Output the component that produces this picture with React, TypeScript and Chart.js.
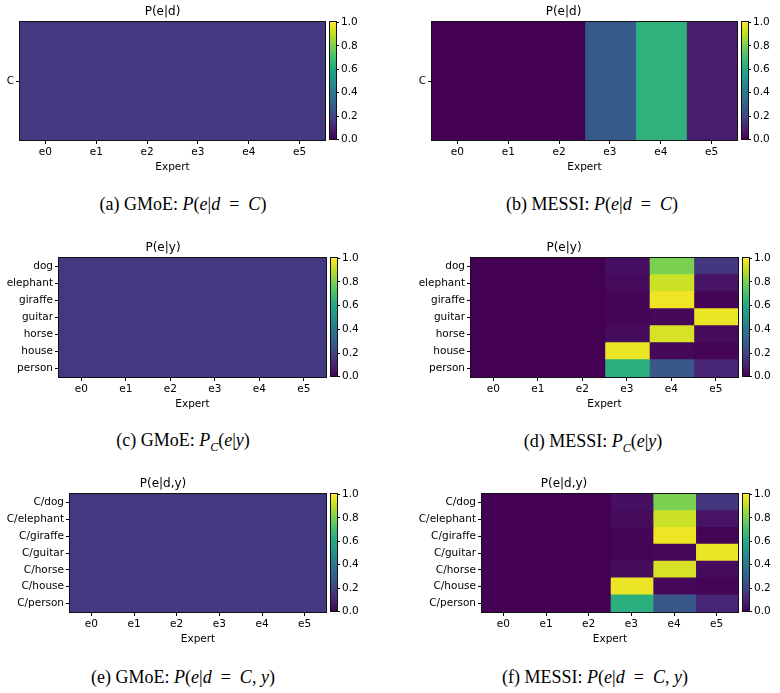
import React, { useEffect, useRef } from 'react';
import { Chart, registerables } from 'chart.js';

Chart.register(...registerables);

// ---------- data ----------
const experts = ['e0', 'e1', 'e2', 'e3', 'e4', 'e5'];
const domainRows = ['C'];
const classRows = ['dog', 'elephant', 'giraffe', 'guitar', 'horse', 'house', 'person'];
const domainClassRows = ['C/dog', 'C/elephant', 'C/giraffe', 'C/guitar', 'C/horse', 'C/house', 'C/person'];
const colorbarTicks = [0, 0.2, 0.4, 0.6, 0.8, 1.0];

const gmoeDomain = [[0.167, 0.167, 0.167, 0.167, 0.167, 0.167]];
const messiDomain = [[0.0, 0.0, 0.0, 0.28, 0.64, 0.08]];

const gmoeClass = [
  [0.167, 0.167, 0.167, 0.167, 0.167, 0.167],
  [0.167, 0.167, 0.167, 0.167, 0.167, 0.167],
  [0.167, 0.167, 0.167, 0.167, 0.167, 0.167],
  [0.167, 0.167, 0.167, 0.167, 0.167, 0.167],
  [0.167, 0.167, 0.167, 0.167, 0.167, 0.167],
  [0.167, 0.167, 0.167, 0.167, 0.167, 0.167],
  [0.167, 0.167, 0.167, 0.167, 0.167, 0.167],
];
const messiClass = [
  [0.0, 0.0, 0.0, 0.04, 0.8, 0.16],
  [0.0, 0.0, 0.0, 0.03, 0.92, 0.05],
  [0.0, 0.0, 0.0, 0.01, 0.98, 0.01],
  [0.0, 0.0, 0.0, 0.01, 0.02, 0.97],
  [0.0, 0.0, 0.0, 0.03, 0.94, 0.03],
  [0.0, 0.0, 0.0, 0.97, 0.02, 0.01],
  [0.0, 0.0, 0.0, 0.63, 0.27, 0.1],
];
const gmoeDomainClass = [
  [0.167, 0.167, 0.167, 0.167, 0.167, 0.167],
  [0.167, 0.167, 0.167, 0.167, 0.167, 0.167],
  [0.167, 0.167, 0.167, 0.167, 0.167, 0.167],
  [0.167, 0.167, 0.167, 0.167, 0.167, 0.167],
  [0.167, 0.167, 0.167, 0.167, 0.167, 0.167],
  [0.167, 0.167, 0.167, 0.167, 0.167, 0.167],
  [0.167, 0.167, 0.167, 0.167, 0.167, 0.167],
];
const messiDomainClass = [
  [0.0, 0.0, 0.0, 0.04, 0.8, 0.16],
  [0.0, 0.0, 0.0, 0.03, 0.92, 0.05],
  [0.0, 0.0, 0.0, 0.01, 0.98, 0.01],
  [0.0, 0.0, 0.0, 0.01, 0.02, 0.97],
  [0.0, 0.0, 0.0, 0.03, 0.94, 0.03],
  [0.0, 0.0, 0.0, 0.97, 0.02, 0.01],
  [0.0, 0.0, 0.0, 0.63, 0.27, 0.1],
];

// ---------- colormap ----------
const VIRIDIS: number[][] = [
  [68, 1, 84], [72, 36, 117], [65, 68, 135], [53, 95, 141], [42, 120, 142],
  [33, 145, 140], [34, 168, 132], [68, 191, 112], [122, 209, 81], [189, 223, 38], [253, 231, 37],
];
function viridis(t: number): string {
  const v = Math.max(0, Math.min(1, t)) * (VIRIDIS.length - 1);
  const i = Math.min(VIRIDIS.length - 2, Math.floor(v));
  const f = v - i;
  const a = VIRIDIS[i], b = VIRIDIS[i + 1];
  const c = a.map((x, k) => Math.round(x + (b[k] - x) * f));
  return `rgb(${c[0]},${c[1]},${c[2]})`;
}

const FONT = 'DejaVu Sans';
const TICK_FONT = { family: FONT, size: 10.5 };
const TITLE_H = 22;
const XAXIS_H = 34;

const framePlugin = {
  id: 'frame',
  afterDatasetsDraw(chart: any) {
    const { ctx, chartArea: a } = chart;
    ctx.save();
    ctx.strokeStyle = '#111';
    ctx.lineWidth = 1;
    ctx.strokeRect(Math.round(a.left) - 0.5, Math.round(a.top) - 0.5, Math.round(a.right - a.left) + 1, Math.round(a.bottom - a.top) + 1);
    ctx.restore();
  },
};

type HeatProps = {
  colLeft: number; plotL: number; plotR: number; plotT: number; plotB: number;
  rows: string[]; values: number[][]; title: string;
};

function Heatmap({ colLeft, plotL, plotR, plotT, plotB, rows, values, title }: HeatProps) {
  const ref = useRef<HTMLCanvasElement>(null);
  const width = plotR - colLeft + 1;
  const height = plotB - plotT + TITLE_H + XAXIS_H;
  const top = plotT - TITLE_H;
  useEffect(() => {
    const datasets = experts.map((e, j) => ({
      label: e,
      data: rows.map(() => [j - 0.5, j + 0.5]),
      backgroundColor: values.map((r) => viridis(r[j])),
      borderWidth: 0,
      inflateAmount: 0.7,
      barPercentage: 1,
      categoryPercentage: 1,
      grouped: false,
    }));
    const chart = new Chart(ref.current as HTMLCanvasElement, {
      type: 'bar',
      data: { labels: rows, datasets: datasets as any },
      options: {
        indexAxis: 'y',
        animation: false,
        responsive: false,
        maintainAspectRatio: false,
        layout: { padding: { right: 1, left: 0, top: 0, bottom: 0 } },
        plugins: {
          legend: { display: false },
          tooltip: { enabled: false },
          title: {
            display: true,
            text: title,
            color: '#000',
            font: { family: FONT, size: 12, weight: 'normal' as any, lineHeight: 1.2 },
            padding: { top: 5, bottom: 2.6 },
          },
        },
        scales: {
          x: {
            type: 'linear',
            min: -0.5,
            max: 5.5,
            afterBuildTicks: (s: any) => { s.ticks = experts.map((_, i) => ({ value: i })); },
            afterFit: (s: any) => { s.height = XAXIS_H; },
            ticks: {
              callback: (_v: any, i: number) => experts[i],
              color: '#000',
              font: TICK_FONT,
              padding: 2,
              maxRotation: 0,
              autoSkip: false,
            },
            grid: { display: true, drawOnChartArea: false, drawTicks: true, tickLength: 4, tickColor: '#000', color: '#000' },
            border: { display: false },
            title: { display: true, text: 'Expert', color: '#000', font: TICK_FONT, padding: { top: 1, bottom: 0 } },
          },
          y: {
            type: 'category',
            afterFit: (s: any) => { s.width = plotL - colLeft; },
            ticks: { color: '#000', font: TICK_FONT, padding: 2, autoSkip: false },
            grid: { display: true, offset: false, drawOnChartArea: false, drawTicks: true, tickLength: 4, tickColor: '#000', color: '#000' },
            border: { display: false },
          },
        },
      },
      plugins: [framePlugin],
    });
    return () => chart.destroy();
  }, []);
  return (
    <canvas
      ref={ref}
      width={width}
      height={height}
      style={{ position: 'absolute', left: colLeft, top, width, height }}
    />
  );
}

function Colorbar({ left, plotT, plotB }: { left: number; plotT: number; plotB: number }) {
  const ref = useRef<HTMLCanvasElement>(null);
  const W = 45;
  const PAD = 8;
  const cbW = 6;
  const height = plotB - plotT + 2 * PAD;
  useEffect(() => {
    const chart = new Chart(ref.current as HTMLCanvasElement, {
      type: 'bar',
      data: {
        labels: [''],
        datasets: [{
          data: [[colorbarTicks[0], colorbarTicks[colorbarTicks.length - 1]]] as any,
          borderWidth: 0,
          barPercentage: 1,
          categoryPercentage: 1,
          backgroundColor: (ctx: any) => {
            const ch = ctx.chart;
            const a = ch.chartArea;
            if (!a) return viridis(0.5);
            const g = ch.ctx.createLinearGradient(0, a.bottom, 0, a.top);
            for (let k = 0; k <= 20; k++) g.addColorStop(k / 20, viridis(k / 20));
            return g;
          },
        }],
      },
      options: {
        animation: false,
        responsive: false,
        maintainAspectRatio: false,
        layout: { padding: { left: 1, right: 0, top: PAD, bottom: PAD } },
        plugins: { legend: { display: false }, tooltip: { enabled: false }, title: { display: false } },
        scales: {
          x: { display: false },
          y: {
            type: 'linear',
            position: 'right',
            min: 0,
            max: 1,
            afterBuildTicks: (s: any) => { s.ticks = colorbarTicks.map((v) => ({ value: v })); },
            afterFit: (s: any) => { s.width = W - 1 - cbW; },
            ticks: { callback: (v: any) => Number(v).toFixed(1), color: '#000', font: TICK_FONT, padding: 2 },
            grid: { display: true, drawOnChartArea: false, drawTicks: true, tickLength: 3, tickColor: '#000', color: '#000' },
            border: { display: false },
          },
        },
      },
      plugins: [framePlugin],
    });
    return () => chart.destroy();
  }, []);
  return (
    <canvas
      ref={ref}
      width={W}
      height={height}
      style={{ position: 'absolute', left: left - 1, top: plotT - PAD, width: W, height }}
    />
  );
}

function Caption({ cx, cy, children }: { cx: number; cy: number; children: React.ReactNode }) {
  return (
    <div
      style={{
        position: 'absolute', left: cx - 200, top: cy - 11, width: 400, textAlign: 'center',
        fontFamily: '"Liberation Serif", "Times New Roman", serif', fontSize: 18, lineHeight: '22px', color: '#000',
        whiteSpace: 'pre',
      }}
    >
      {children}
    </div>
  );
}

const EQ = '\u2002=\u2002';

type PanelSpec = {
  colLeft: number; plotL: number; plotR: number; plotT: number; plotB: number;
  rows: string[]; values: number[][]; title: string;
};

function Panel(p: PanelSpec) {
  return (
    <>
      <Heatmap {...p} />
      <Colorbar left={p.plotR + 5} plotT={p.plotT} plotB={p.plotB} />
    </>
  );
}

export default function App() {
  return (
    <div style={{ position: 'fixed', left: 0, top: 0, width: 780, height: 693, overflow: 'hidden', background: '#fff' }}>
      <Panel colLeft={0} plotL={20} plotR={325} plotT={22} plotB={140} rows={domainRows} values={gmoeDomain} title="P(e|d)" />
      <Panel colLeft={390} plotL={432} plotR={737} plotT={22} plotB={140} rows={domainRows} values={messiDomain} title="P(e|d)" />
      <Panel colLeft={0} plotL={59} plotR={326} plotT={258} plotB={377} rows={classRows} values={gmoeClass} title="P(e|y)" />
      <Panel colLeft={390} plotL={471} plotR={738} plotT={258} plotB={377} rows={classRows} values={messiClass} title="P(e|y)" />
      <Panel colLeft={0} plotL={70} plotR={326} plotT={494} plotB={612} rows={domainClassRows} values={gmoeDomainClass} title="P(e|d,y)" />
      <Panel colLeft={390} plotL={482} plotR={738} plotT={494} plotB={612} rows={domainClassRows} values={messiDomainClass} title="P(e|d,y)" />

      <Caption cx={183} cy={204}>(a) GMoE: <i>P</i>(<i>e</i>|<i>d</i>{EQ}<i>C</i>)</Caption>
      <Caption cx={592} cy={204}>(b) MESSI: <i>P</i>(<i>e</i>|<i>d</i>{EQ}<i>C</i>)</Caption>
      <Caption cx={183} cy={440}>(c) GMoE: <i>P</i><sub style={{ fontSize: 12 }}><i>C</i></sub>(<i>e</i>|<i>y</i>)</Caption>
      <Caption cx={593} cy={441}>(d) MESSI: <i>P</i><sub style={{ fontSize: 12 }}><i>C</i></sub>(<i>e</i>|<i>y</i>)</Caption>
      <Caption cx={183} cy={677}>(e) GMoE: <i>P</i>(<i>e</i>|<i>d</i>{EQ}<i>C</i>, <i>y</i>)</Caption>
      <Caption cx={595} cy={677}>(f) MESSI: <i>P</i>(<i>e</i>|<i>d</i>{EQ}<i>C</i>, <i>y</i>)</Caption>
    </div>
  );
}
